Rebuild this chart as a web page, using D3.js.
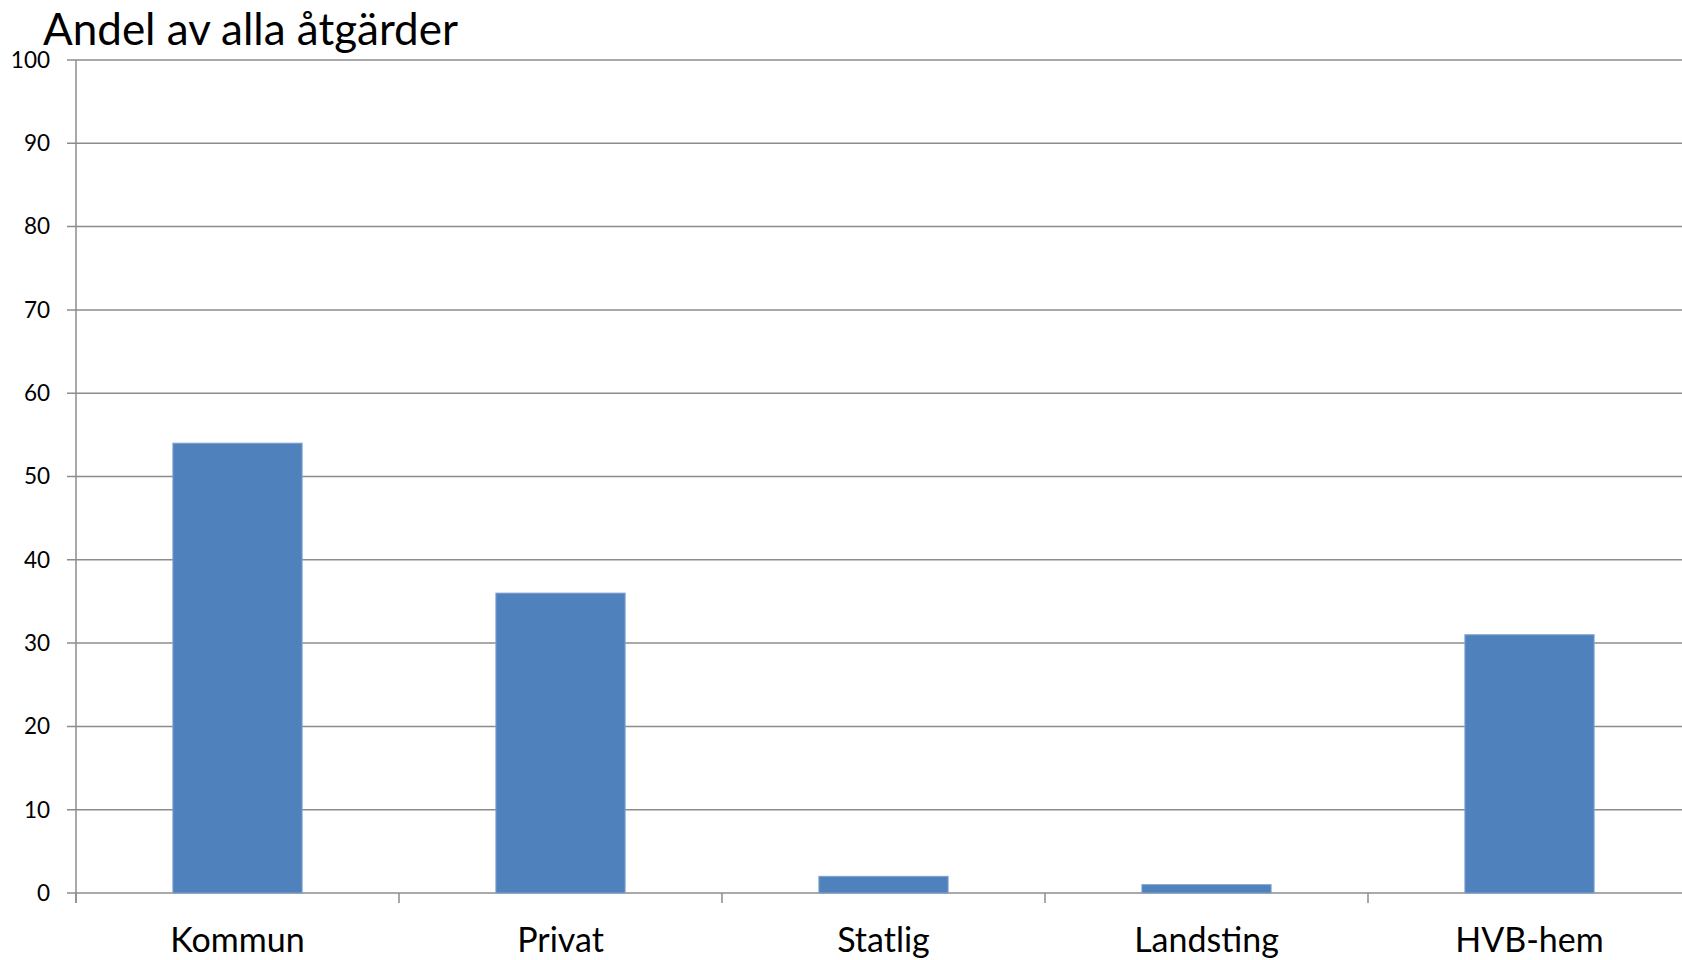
<!DOCTYPE html>
<html><head><meta charset="utf-8">
<script src="https://cdn.jsdelivr.net/npm/d3@7"></script>
<style>body{margin:0;background:#fff}svg{display:block}</style>
</head><body>
<script>
const categories = ["Kommun","Privat","Statlig","Landsting","HVB-hem"];
const values = [54, 36, 2, 1, 31];
const yTicks = [0,10,20,30,40,50,60,70,80,90,100];
const title = "Andel av alla åtgärder";

const W = 1682, H = 960;
const m = {left: 76, top: 60, bottom: 67};
const plotRight = 76 + 5*323;
const svg = d3.select("body").append("svg").attr("width", W).attr("height", H);
const font = "Lato, 'Open Sans', sans-serif";

const x = d3.scaleBand().domain(categories).range([m.left, plotRight]).paddingInner(0.6).paddingOuter(0.3);
const y = d3.scaleLinear().domain([0,100]).range([H - m.bottom - 0, m.top]);

// gridlines
svg.append("g").selectAll("line").data(yTicks).join("line")
  .attr("x1", m.left - 9).attr("x2", W)
  .attr("y1", d => y(d)).attr("y2", d => y(d))
  .attr("stroke", "#8c8c8c").attr("stroke-width", 1.5);

// y labels
svg.append("g").selectAll("text").data(yTicks).join("text")
  .attr("x", 50).attr("y", d => y(d)).attr("dy", "0.35em")
  .attr("text-anchor", "end").attr("font-family", font).attr("font-size", 22.5)
  .attr("fill", "#000").text(d => d);

// y axis line
svg.append("line").attr("x1", m.left).attr("x2", m.left).attr("y1", y(100)).attr("y2", y(0) + 10)
  .attr("stroke", "#8c8c8c").attr("stroke-width", 1.5);

// x tick marks at category boundaries
const bounds = d3.range(categories.length + 1).map(i => m.left + i * (plotRight - m.left) / categories.length);
svg.append("g").selectAll("line").data(bounds).join("line")
  .attr("x1", d => d).attr("x2", d => d).attr("y1", y(0)).attr("y2", y(0) + 10)
  .attr("stroke", "#8c8c8c").attr("stroke-width", 1.5);

// bars
svg.append("g").selectAll("rect").data(values).join("rect")
  .attr("x", (d,i) => x(categories[i])).attr("width", x.bandwidth())
  .attr("y", d => y(d)).attr("height", d => y(0) - y(d))
  .attr("fill", "#4F81BD").attr("stroke", "#7ea2cf").attr("stroke-width", 1);

// x labels
svg.append("g").selectAll("text").data(categories).join("text")
  .attr("x", d => x(d) + x.bandwidth()/2).attr("y", 952)
  .attr("text-anchor", "middle").attr("font-family", font).attr("font-size", 34)
  .attr("fill", "#000").text(d => d);

// title
svg.append("text").attr("x", 43).attr("y", 45)
  .attr("font-family", font).attr("font-size", 44).attr("fill", "#000").text(title);
</script>
</body></html>
